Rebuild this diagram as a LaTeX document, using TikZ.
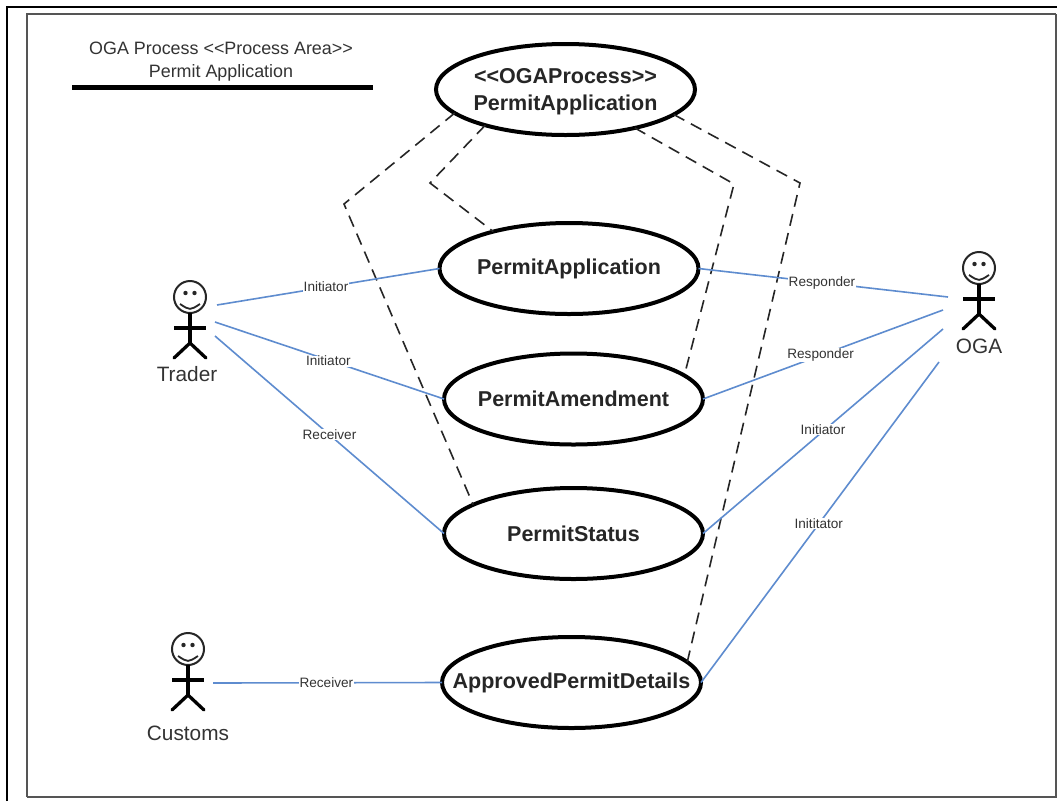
\documentclass[tikz,border=0pt]{standalone}
\usepackage{fontspec}
\setmainfont{Liberation Sans}
\usepackage{tikz}
\usetikzlibrary{shapes.geometric}
\definecolor{linkblue}{HTML}{5E8CCF}
\definecolor{framegray}{HTML}{555555}
\definecolor{textgray}{HTML}{333333}
\tikzset{
    usecase/.style={ellipse, draw=black, line width=4pt, fill=white, minimum width=259pt, minimum height=91pt, inner xsep=-40pt, inner ysep=0pt, outer sep=0pt, align=center, text=black!85, font=\fontsize{21.5}{27}\selectfont\bfseries},
    link/.style={draw=linkblue, line width=1.6pt},
    rolelabel/.style={fill=white, inner sep=0.6pt, text=textgray, font=\fontsize{13.6}{16}\selectfont},
    trace/.style={draw=black!85, line width=1.6pt, dash pattern=on 12pt off 7.5pt},
    actorname/.style={text=textgray, font=\fontsize{20.8}{24}\selectfont},
    titletext/.style={text=textgray, align=center, font=\fontsize{17.9}{23}\selectfont}
}
\begin{document}
\begin{tikzpicture}[x=1pt, y=-1pt]
            \def\stick(#1,#2){
                \draw[line width=2pt, draw=black!85] (#1,#2) circle (16);
                \fill[black!85] (#1-4.5,#2-4) circle (2.2);
                \fill[black!85] (#1+4.5,#2-4) circle (2.2);
                \draw[line width=1.8pt, draw=black!85] (#1-10,#2+7) .. controls (#1,#2+13.5) .. (#1+10,#2+7);
                \draw[line width=3.3pt] (#1,#2+16) -- (#1,#2+46);
                \draw[line width=3.3pt] (#1-16,#2+31) -- (#1+16,#2+31);
                \draw[line width=3.3pt, line cap=round] (#1-16,#2+61) -- (#1,#2+46) -- (#1+16,#2+61);
            }
            \fill[white] (0,0) rectangle (1057,801);
            \useasboundingbox (0,0) rectangle (1057,801);
            % frame
            \draw[line width=2.4pt] (7,801) -- (7,7) -- (1057,7);
            \draw[framegray, line width=1.6pt] (27,797) -- (27,14) -- (1056,14);
            \draw[framegray, line width=2.4pt] (1056,14) -- (1056,797) -- (27,797);
            % title
            \node[titletext] (title) at (221,61.5) {OGA Process <{}<Process Area>{}>\\Permit Application};
            \draw[line width=5pt] (72,87) -- (373,87);
            % use cases
            \node[usecase] (process) at (565.5,89.5) {\rule{0pt}{20pt}<{}<OGAProcess>{}>\\PermitApplication};
            \node[usecase] (application) at (569,268.5) {PermitApplication};
            \node[usecase] (amendment) at (573.5,399) {PermitAmendment};
            \node[usecase] (status) at (573.5,533.5) {PermitStatus};
            \node[usecase] (approved) at (571.5,682.5) {ApprovedPermitDetails};
            % actors
            \stick(190,297)
            \stick(979,268)
            \stick(188,649)
            \node[actorname] (trader) at (187,374) {Trader};
            \node[actorname] (oga) at (979,346) {OGA};
            \node[actorname] (customs) at (188,733) {Customs};
            \coordinate (traderA) at (217,305);
            \coordinate (traderB) at (215,322);
            \coordinate (traderC) at (215,336);
            \coordinate (customsA) at (213,683);
            \coordinate (ogaA) at (948,297);
            \coordinate (ogaB) at (943,310);
            \coordinate (ogaC) at (943,329);
            \coordinate (ogaD) at (939,362);
            \coordinate (cornerA) at (344,204);
            \coordinate (cornerB) at (430,183);
            \coordinate (cornerC) at (734,184);
            \coordinate (cornerD) at (800,183);
            % traces
            \draw[trace] (process.192.5) -- (cornerA) -- (status.164);
            \draw[trace] (process.204) -- (cornerB) -- (application.154);
            \draw[trace] (process.331) -- (cornerC) -- (amendment.12);
            \draw[trace] (process.347) -- (cornerD) -- (approved.10);
            % links
            \draw[link] (traderA) -- (application.west) node[rolelabel, pos=0.49] (initA) {Initiator};
            \draw[link] (traderB) -- (amendment.west) node[rolelabel, pos=0.495, yshift=-1pt] (initB) {Initiator};
            \draw[link] (traderC) -- (status.west) node[rolelabel, pos=0.5] (recvA) {Receiver};
            \draw[link] (customsA) -- (approved.west) node[rolelabel, pos=0.495] (recvB) {Receiver};
            \draw[link] (ogaA) -- (application.east) node[rolelabel, pos=0.505] (respA) {Responder};
            \draw[link] (ogaB) -- (amendment.east) node[rolelabel, pos=0.51] (respB) {Responder};
            \draw[link] (ogaC) -- (status.east) node[rolelabel, pos=0.5, yshift=2pt] (initC) {Initiator};
            \draw[link] (ogaD) -- (approved.east) node[rolelabel, pos=0.505] (initD) {Inititator};
        \end{tikzpicture}
\end{document}
